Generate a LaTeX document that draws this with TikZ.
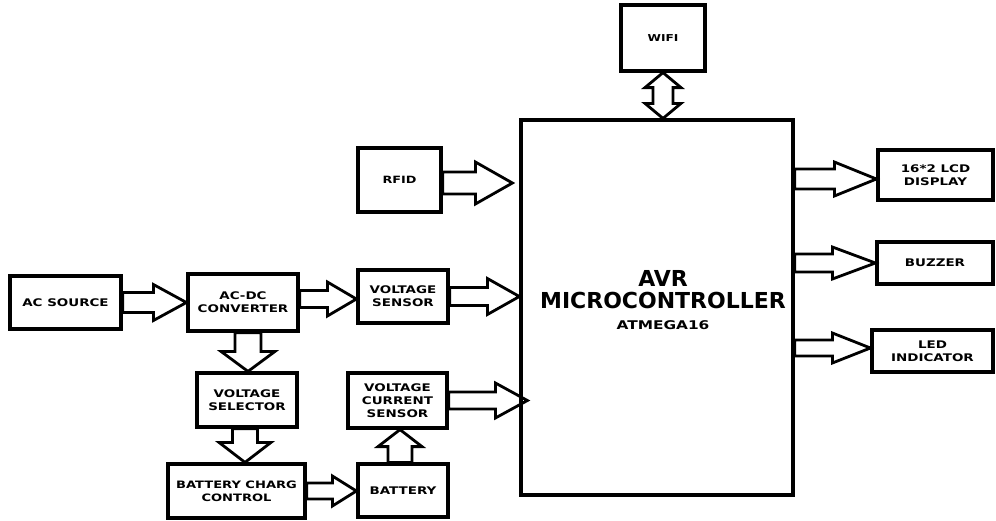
\documentclass[tikz,border=0pt]{standalone}
\usepackage{fontspec}
\setmainfont{DejaVu Sans}
\newfontfamily\lblfont[FakeStretch=1.28]{DejaVu Sans}
\usetikzlibrary{calc,backgrounds}

\tikzset{
  blk/.style={draw, line width=3.2pt, inner sep=1pt, align=center,
    font=\lblfont\bfseries\fontsize{10.5}{12.8}\selectfont},
  barrowline/.style={draw, fill=white, line width=2.8pt, line join=miter},
}

% single block arrow: start, end, shaft half-width, head half-width, head length
\newcommand\barr[5]{%
  \draw[barrowline] let \p1=(#1), \p2=(#2),
    \n1={veclen(\x2-\x1,\y2-\y1)}, \n2={atan2(\y2-\y1,\x2-\x1)} in
    ($(\p1)+({\n2+90}:#3pt)$) -- ++(\n2:{(\n1-#5)*1pt}) -- ++({\n2+90}:{(#4-#3)*1pt})
    -- (\p2) -- ($(\p2)+({\n2+180}:#5pt)+({\n2-90}:#4pt)$) -- ++({\n2+90}:{(#4-#3)*1pt})
    -- ++({\n2+180}:{(\n1-#5)*1pt}) -- cycle;}
% double block arrow
\newcommand\dbarr[5]{%
  \draw[barrowline] let \p1=(#1), \p2=(#2),
    \n1={veclen(\x2-\x1,\y2-\y1)}, \n2={atan2(\y2-\y1,\x2-\x1)} in
    (\p1) -- ($(\p1)+(\n2:#5pt)+({\n2+90}:#4pt)$) -- ++({\n2-90}:{(#4-#3)*1pt})
    -- ++(\n2:{(\n1-2*#5)*1pt}) -- ++({\n2+90}:{(#4-#3)*1pt}) -- (\p2)
    -- ($(\p2)+({\n2+180}:#5pt)+({\n2-90}:#4pt)$) -- ++({\n2+90}:{(#4-#3)*1pt})
    -- ++({\n2+180}:{(\n1-2*#5)*1pt}) -- ++({\n2-90}:{(#4-#3)*1pt}) -- cycle;}

\begin{document}
\begin{tikzpicture}[x=1pt,y=-1pt]
\useasboundingbox (0,0) rectangle (996,520);

\node[blk, minimum width=111pt, minimum height=53pt] (acs) at (65.5,302.5) {AC SOURCE};
\node[blk, minimum width=110pt, minimum height=57pt] (acdc) at (243,302.5) {AC-DC\\CONVERTER};
\node[blk, minimum width=90pt, minimum height=53pt] (vsen) at (403,296.5) {VOLTAGE\\SENSOR};
\node[blk, minimum width=100pt, minimum height=54pt] (vsel) at (247,400) {VOLTAGE\\SELECTOR};
\node[blk, minimum width=137pt, minimum height=54pt, font=\lblfont\bfseries\fontsize{10.2}{12.8}\selectfont] (bcc) at (236.5,491) {BATTERY CHARG\\CONTROL};
\node[blk, minimum width=90pt, minimum height=53pt] (bat) at (403,490.5) {BATTERY};
\node[blk, minimum width=99pt, minimum height=55pt] (vcs) at (397.5,400.5) {VOLTAGE\\CURRENT\\SENSOR};
\node[blk, minimum width=83pt, minimum height=64pt, font=\lblfont\bfseries\fontsize{10}{10}\selectfont] (rfid) at (399.5,180) {RFID};
\node[blk, minimum width=84pt, minimum height=66pt, font=\lblfont\bfseries\fontsize{9.5}{10}\selectfont] (wifi) at (663,38) {WIFI};
\node[blk, minimum width=272pt, minimum height=375pt] (mcu) at (657,307.5) {};
\node[align=center, font=\bfseries\fontsize{22}{22.5}\selectfont] (mcut) at (663,300)
  {AVR\\MICROCONTROLLER\\[-2pt]{\lblfont\fontsize{12}{12}\selectfont ATMEGA16}};
\node[blk, minimum width=115pt, minimum height=50pt] (lcd) at (935.5,175) {16*2 LCD\\DISPLAY};
\node[blk, minimum width=116pt, minimum height=42pt] (buz) at (935,263) {BUZZER};
\node[blk, minimum width=121pt, minimum height=42pt] (led) at (932.5,351) {LED\\INDICATOR};

\coordinate (a2s) at ($(acdc.east)+(0,-3.5)$);
\coordinate (a2e) at (a2s -| vsen.west);
\coordinate (c4s) at ($(acdc.south)+(5,0)$);
\coordinate (c4e) at (c4s |- vsel.north);
\coordinate (c5s) at ($(vsel.south)+(-2,0)$);
\coordinate (c5e) at (c5s |- bcc.north);
\coordinate (c7s) at ($(bat.north)+(-3,0)$);
\coordinate (c7e) at (c7s |- vcs.south);
\coordinate (c8e) at ($(vcs.east -| mcu.west)+(8,0)$);
\coordinate (c9s) at ($(rfid.east)+(0,3)$);
\coordinate (c9e) at ($(c9s -| mcu.west)+(-7,0)$);
\coordinate (c10s) at ($(lcd.west -| mcu.east)+(0,4)$);
\coordinate (c10e) at (c10s -| lcd.west);
\coordinate (c11s) at (buz.west -| mcu.east);
\coordinate (c12s) at ($(led.west -| mcu.east)+(0,-3)$);
\coordinate (c12e) at (c12s -| led.west);
\coordinate (c13e) at (wifi.south |- mcu.north);
\coordinate (c3e) at (vsen.east -| mcu.west);
\coordinate (c6e) at (bcc.east -| bat.west);

\begin{scope}[on background layer]
\barr{acs.east}{acdc.west}{10}{18}{33}
\barr{a2s}{a2e}{8.5}{17}{29}
\barr{vsen.east}{c3e}{9}{18}{32}
\barr{c4s}{c4e}{13}{27}{20}
\barr{c5s}{c5e}{12.5}{26}{20}
\barr{bcc.east}{c6e}{8}{15}{24}
\barr{c7s}{c7e}{12}{22}{17}
\barr{vcs.east}{c8e}{8.5}{17.5}{32}
\barr{c9s}{c9e}{11}{21}{37}
\barr{c10s}{c10e}{10}{17}{42}
\barr{c11s}{buz.west}{9}{16}{43}
\barr{c12s}{c12e}{8}{15}{38}
\dbarr{wifi.south}{c13e}{10}{18}{15}
\end{scope}
\end{tikzpicture}
\end{document}
